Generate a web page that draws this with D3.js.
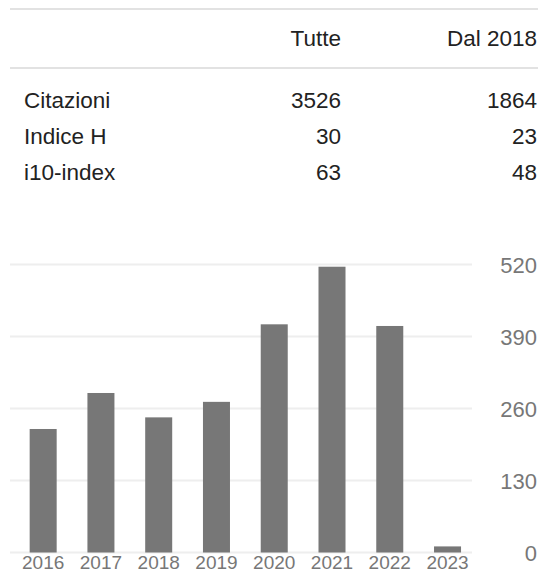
<!DOCTYPE html>
<html>
<head>
<meta charset="utf-8">
<script src="https://cdn.jsdelivr.net/npm/d3@7"></script>
<style>
  html, body { margin: 0; padding: 0; background: #fff; }
  svg { display: block; font-family: Arial, "Liberation Sans", sans-serif; }
</style>
</head>
<body>
<svg id="chart" width="538" height="573"></svg>
<script>
// table data
var columns = ["Tutte", "Dal 2018"];
var rowLabels = ["Citazioni", "Indice H", "i10-index"];
var allValues = [3526, 30, 63];
var since2018 = [1864, 23, 48];

// citations per year
var years = ["2016", "2017", "2018", "2019", "2020", "2021", "2022", "2023"];
var citations = [223, 288, 244, 272, 412, 516, 409, 11];
var yTicks = [0, 130, 260, 390, 520];

var svg = d3.select("#chart");

// SECTION: stats table
var colRight = [341, 537];
var fs = 22.5;

svg.append("line").attr("x1", 10).attr("x2", 538).attr("y1", 9).attr("y2", 9)
    .attr("stroke", "#e2e2e2").attr("stroke-width", 2);
svg.append("line").attr("x1", 10).attr("x2", 538).attr("y1", 68).attr("y2", 68)
    .attr("stroke", "#e2e2e2").attr("stroke-width", 2);

svg.append("g").selectAll("text").data(columns).enter().append("text")
    .attr("x", function(d, i) { return colRight[i]; })
    .attr("y", 46)
    .attr("text-anchor", "end")
    .attr("font-size", fs)
    .attr("fill", "#222")
    .text(function(d) { return d; });

var rowY = [108, 144, 180];
var rows = svg.append("g").selectAll("g").data(rowLabels).enter().append("g");
rows.append("text")
    .attr("x", 24).attr("y", function(d, i) { return rowY[i]; })
    .attr("font-size", fs).attr("fill", "#222")
    .text(function(d) { return d; });
rows.append("text")
    .attr("x", colRight[0]).attr("y", function(d, i) { return rowY[i]; })
    .attr("text-anchor", "end").attr("font-size", fs).attr("fill", "#222")
    .text(function(d, i) { return allValues[i]; });
rows.append("text")
    .attr("x", colRight[1]).attr("y", function(d, i) { return rowY[i]; })
    .attr("text-anchor", "end").attr("font-size", fs).attr("fill", "#222")
    .text(function(d, i) { return since2018[i]; });

// SECTION: bar chart
var x = d3.scaleBand().domain(years).range([14.3, 476.4])
    .paddingInner(0.5325).paddingOuter(0.266);
var y = d3.scaleLinear().domain([0, 520]).range([552.5, 264.5]);

var grid = svg.append("g").attr("class", "grid");
grid.selectAll("line").data(yTicks).enter().append("line")
    .attr("x1", 10).attr("x2", 472)
    .attr("y1", function(d) { return y(d); })
    .attr("y2", function(d) { return y(d); })
    .attr("stroke", "#eeeeee").attr("stroke-width", 2);

var yAxis = d3.axisRight(y).tickValues(yTicks).tickSize(0).tickPadding(0);
var yg = svg.append("g").attr("transform", "translate(537,0)").call(yAxis);
yg.select(".domain").remove();
yg.selectAll("text")
    .attr("text-anchor", "end").attr("dy", "0.36em")
    .attr("font-size", 22).attr("font-family", null)
    .attr("fill", "#777");

svg.append("g").selectAll("rect").data(citations).enter().append("rect")
    .attr("x", function(d, i) { return x(years[i]); })
    .attr("width", x.bandwidth())
    .attr("y", function(d) { return y(d); })
    .attr("height", function(d) { return y(0) - y(d); })
    .attr("fill", "#777");

var xAxis = d3.axisBottom(x).tickSize(0).tickPadding(0);
var xg = svg.append("g").attr("transform", "translate(0,555.5)").call(xAxis);
xg.select(".domain").remove();
xg.selectAll("text")
    .attr("dy", "0.71em")
    .attr("font-size", 19).attr("font-family", null)
    .attr("fill", "#777");
</script>
</body>
</html>
